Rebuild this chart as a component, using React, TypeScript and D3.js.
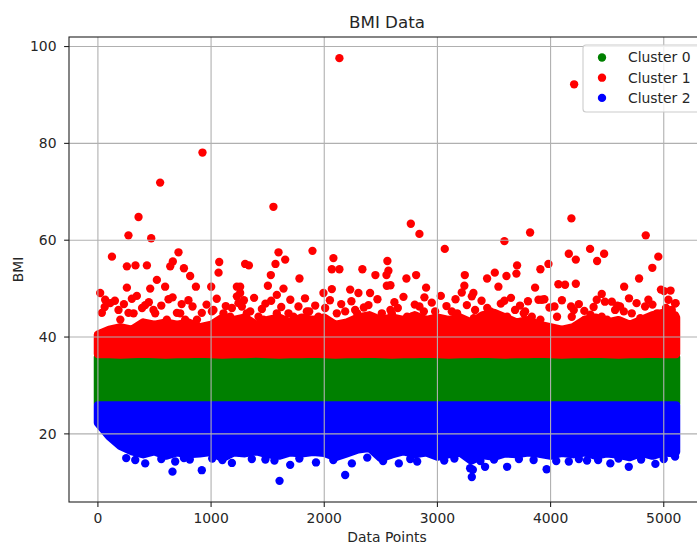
import React, { useEffect } from 'react';
import * as d3 from 'd3';

const W = 697;
const H = 544;
const PLOT = { left: 69, top: 37, right: 705, bottom: 502 };
const R = 4.17;

const xTicks = [0, 1000, 2000, 3000, 4000, 5000];
const yTicks = [20, 40, 60, 80, 100];
const clusterNames = ['Cluster 0', 'Cluster 1', 'Cluster 2'];
const clusterColors = ['green', 'red', 'blue'];

// Dense bands, sampled every 100 data points (index, BMI)
const bandIdx = [0, 100, 200, 300, 400, 500, 600, 700, 800, 900,
  1000, 1100, 1200, 1300, 1400, 1500, 1600, 1700, 1800, 1900,
  2000, 2100, 2200, 2300, 2400, 2500, 2600, 2700, 2800, 2900,
  3000, 3100, 3200, 3300, 3400, 3500, 3600, 3700, 3800, 3900,
  4000, 4100, 4200, 4300, 4400, 4500, 4600, 4700, 4800, 4900,
  5000, 5100, 5109];

// Cluster 0 (green) band
const greenIdx = [0, 5109];
const greenLow = [26.2, 26.2];
const greenHigh = [35.9, 35.9];

// Cluster 1 (red) dense band
const redLow = [36.5, 36.5, 36.4, 36.5, 36.6, 36.5, 36.4, 36.5, 36.5, 36.6,
  36.5, 36.4, 36.5, 36.5, 36.6, 36.5, 36.4, 36.5, 36.5, 36.6,
  36.5, 36.4, 36.5, 36.5, 36.6, 36.5, 36.4, 36.5, 36.5, 36.6,
  36.5, 36.4, 36.5, 36.5, 36.6, 36.5, 36.4, 36.5, 36.5, 36.6,
  36.5, 36.4, 36.5, 36.5, 36.6, 36.5, 36.4, 36.5, 36.5, 36.6,
  36.5, 36.5, 36.5];
const redHigh = [40.5, 41.5, 42.0, 41.5, 43.0, 42.5, 43.0, 42.5, 43.0, 42.0,
  42.5, 44.0, 43.5, 44.0, 42.5, 43.5, 44.0, 43.0, 44.0, 43.5,
  44.0, 42.5, 43.0, 44.0, 44.5, 43.5, 44.0, 43.5, 44.5, 43.5,
  44.0, 43.5, 44.0, 43.0, 44.5, 45.0, 44.0, 43.0, 43.5, 42.5,
  42.0, 41.5, 42.0, 43.5, 44.0, 43.0, 43.5, 42.5, 43.5, 44.5,
  45.0, 44.5, 44.0];

// Cluster 2 (blue) dense band
const blueHigh = [25.9, 25.9, 25.9, 25.9, 25.9, 25.9, 25.9, 25.9, 25.9, 25.9,
  25.9, 25.9, 25.9, 25.9, 25.9, 25.9, 25.9, 25.9, 25.9, 25.9,
  25.9, 25.9, 25.9, 25.9, 25.9, 25.9, 25.9, 25.9, 25.9, 25.9,
  25.9, 25.9, 25.9, 25.9, 25.9, 25.9, 25.9, 25.9, 25.9, 25.9,
  25.9, 25.9, 25.9, 25.9, 25.9, 25.9, 25.9, 25.9, 25.9, 25.9,
  25.9, 25.9, 25.9];
const blueLow = [22.3, 19.5, 17.5, 16.4, 15.8, 16.4, 15.5, 16.2, 15.8, 16.0,
  16.3, 15.0, 16.2, 16.0, 16.4, 15.8, 15.5, 16.2, 16.0, 16.3,
  16.1, 15.2, 16.0, 16.8, 17.1, 15.0, 15.8, 16.4, 15.8, 16.2,
  15.3, 15.8, 16.2, 14.5, 15.6, 15.3, 16.0, 15.8, 16.2, 15.9,
  15.5, 16.1, 15.8, 16.2, 15.5, 16.0, 15.7, 15.2, 16.1, 15.5,
  16.2, 16.0, 16.3];

// Individual visible points [data index, BMI]
const redPoints: [number, number][] = [
  [2134, 97.6], [924, 78.1], [550, 71.9], [1551, 66.9], [359, 64.8], [270, 61.0], [471, 60.4],
  [124, 56.6], [256, 54.6], [332, 54.8], [433, 54.8], [639, 54.6], [662, 55.6], [712, 57.5],
  [760, 54.2], [815, 52.6], [1072, 55.5], [1066, 53.3], [1301, 55.1], [1334, 54.8], [1528, 52.8],
  [1569, 55.1], [1596, 57.5], [1655, 56.0], [1781, 52.1], [1896, 57.8], [2081, 56.3], [2067, 54.0],
  [2134, 54.0], [4208, 92.2], [4184, 64.5], [4841, 61.0], [2765, 63.4], [2841, 61.3], [3819, 61.6],
  [3592, 59.8], [3065, 58.2], [2337, 54.0], [2452, 52.8], [2558, 55.7], [2567, 53.7], [2550, 52.8],
  [2726, 52.1], [2812, 52.8], [3242, 52.8], [3507, 53.3], [3439, 52.1], [3610, 52.6], [3704, 54.8],
  [3698, 53.1], [3910, 54.0], [3981, 55.1], [4161, 57.2], [4223, 56.0], [4349, 58.2], [4411, 55.7],
  [4473, 57.2], [4782, 52.1], [4899, 54.3], [4952, 56.6],
  [866, 50.4], [1001, 50.4], [256, 50.2], [521, 51.8], [462, 50.0], [594, 50.4], [20, 49.1],
  [344, 48.5], [624, 47.8], [418, 46.6], [836, 46.3], [182, 45.6], [64, 47.7], [506, 44.9],
  [1228, 50.4], [1228, 48.4], [1184, 46.0], [1110, 44.9], [35, 45.0], [270, 45.0], [698, 45.0],
  [771, 43.6], [918, 45.0], [1007, 45.3], [1242, 47.0],
  [2553, 50.6], [1502, 50.6], [1640, 50.0], [1581, 48.7], [1531, 47.5], [1257, 50.4], [1257, 49.1],
  [1449, 45.8], [1867, 45.3], [1993, 49.1], [2067, 49.9], [2229, 49.8], [2302, 49.1], [2405, 49.1],
  [2391, 46.6], [2008, 46.0], [1272, 46.3], [1419, 44.2], [1684, 44.9], [1846, 43.6], [1949, 44.2],
  [2185, 45.3], [2273, 45.6], [2509, 44.9], [2391, 44.2],
  [2585, 50.7], [2900, 50.2], [2885, 48.2], [2841, 46.3], [2650, 46.0], [3030, 48.5], [3238, 50.6],
  [3215, 49.2], [3318, 49.1], [3304, 48.4], [3539, 50.4], [3592, 47.5], [3863, 50.2], [3893, 47.7],
  [3775, 45.3], [2980, 45.3], [2597, 44.9], [2774, 44.2], [3127, 45.3], [3333, 45.6], [3481, 44.9],
  [3686, 45.6], [3834, 44.2],
  [4069, 50.9], [4128, 50.8], [4223, 51.0], [4650, 50.4], [5003, 49.5], [3945, 47.8], [4034, 46.3],
  [4181, 46.3], [4452, 48.9], [4408, 47.7], [4541, 47.3], [4693, 48.0], [4614, 46.3], [5041, 47.7],
  [5100, 46.9], [4298, 45.4], [4864, 47.7], [3922, 47.7], [4187, 44.2], [4305, 43.6], [4452, 44.2],
  [4570, 45.6], [4717, 44.9], [4835, 46.3], [4952, 44.2], [5071, 45.6], [5105, 43.6],
  [4975, 49.8], [5060, 49.6], [5105, 47.0],
  [109, 47.0], [198, 43.6], [315, 44.9], [491, 45.6], [609, 43.6], [727, 44.9], [875, 43.6],
  [1021, 45.6], [1169, 44.2], [1316, 44.9], [1463, 43.6], [1581, 44.9], [1728, 44.2], [1846, 45.3],
  [1964, 43.6], [2111, 44.9], [2291, 44.9], [2438, 43.6], [2585, 45.6], [2732, 44.2], [2880, 45.3],
  [3027, 43.6], [3174, 44.9], [3322, 43.9], [3468, 45.3], [3616, 44.2], [3763, 44.9], [3910, 43.6],
  [4057, 44.2], [4205, 45.6], [4352, 44.6], [4499, 43.6], [4647, 45.3], [4793, 43.9], [4941, 44.9],
  [5073, 44.2],
  [60, 46.2], [150, 47.5], [230, 46.8], [300, 47.9], [390, 46.0], [450, 47.2], [560, 46.5],
  [660, 48.2], [740, 46.8], [800, 47.6], [960, 46.7], [1050, 47.9], [1130, 46.4], [1290, 47.6],
  [1346, 45.3], [1380, 48.1], [1480, 46.9], [1620, 46.2], [1700, 47.7], [1772, 46.3], [1830, 48.0],
  [1920, 46.5], [2050, 47.6], [2150, 46.8], [2240, 47.4], [2350, 46.1], [2470, 47.8], [2620, 47.2],
  [2700, 48.3], [2800, 46.7], [2950, 47.1], [3080, 46.4], [3160, 47.8], [3260, 46.6], [3390, 47.5],
  [3440, 46.0], [3560, 46.9], [3650, 48.1], [3730, 46.5], [3800, 47.4], [3990, 46.1], [4100, 47.6],
  [4250, 46.8], [4380, 46.2], [4480, 47.3], [4590, 46.5], [4760, 47.0], [4900, 46.7], [5020, 46.0],
];

const bluePoints: [number, number][] = [
  [418, 13.9], [659, 12.2], [918, 12.5], [812, 14.7], [683, 14.3], [1184, 14.0], [1605, 10.3],
  [1699, 13.6], [1927, 14.1], [2185, 11.5], [2244, 13.9], [3304, 11.1], [3289, 12.9], [3313, 12.6],
  [3965, 12.7], [2659, 13.9], [2821, 14.3], [2953, 15.9], [3421, 13.2], [3616, 13.2], [4161, 14.3],
  [4322, 14.5], [4528, 13.9], [4691, 13.2], [4926, 13.8],
  [250, 15.0], [330, 14.6], [560, 14.8], [760, 15.0], [1010, 14.9], [1100, 14.6], [1360, 14.8],
  [1480, 14.7], [1560, 14.5], [1780, 14.9], [2080, 14.6], [2380, 15.1], [2520, 14.4], [2760, 14.8],
  [3060, 14.5], [3150, 14.9], [3380, 14.4], [3500, 14.7], [3720, 14.8], [3850, 14.6], [4050, 14.4],
  [4250, 14.8], [4420, 14.6], [4600, 14.9], [4800, 14.7], [5000, 14.8], [5100, 15.3],
];

const FONT = 'DejaVu Sans, sans-serif';
const TXT = '#262626';

export default function App() {
  useEffect(() => {
    document.documentElement.style.overflow = 'hidden';
    document.body.style.overflow = 'hidden';
    document.body.style.margin = '0';
  }, []);

  const x = d3.scaleLinear().domain([-255.45, 5364.45]).range([PLOT.left, PLOT.right]);
  const y = d3.scaleLinear().domain([5.93, 101.97]).range([PLOT.bottom, PLOT.top]);

  const band = (idx: number[], lo: number[], hi: number[]) =>
    d3.area<number>()
      .x((_, i) => x(idx[i]))
      .y0((_, i) => y(lo[i]))
      .y1((_, i) => y(hi[i]))(idx) || '';

  const bandStyle = (c: string) => ({
    fill: c, stroke: c, strokeWidth: 2 * R, strokeLinejoin: 'round' as const,
  });

  const legendY = [57.5, 77.7, 97.9];

  return (
    <div style={{ position: 'fixed', left: 0, top: 0, width: W, height: H, overflow: 'hidden', background: 'white' }}>
      <svg width={W} height={H} style={{ display: 'block' }} fontFamily={FONT}>
        <defs>
          <clipPath id="plotclip">
            <rect x={PLOT.left} y={PLOT.top} width={PLOT.right - PLOT.left} height={PLOT.bottom - PLOT.top} />
          </clipPath>
        </defs>
        <rect x={0} y={0} width={W} height={H} fill="white" />
        <g clipPath="url(#plotclip)">
          <path d={band(greenIdx, greenLow, greenHigh)} {...bandStyle(clusterColors[0])} />
          <path d={band(bandIdx, redLow, redHigh)} {...bandStyle(clusterColors[1])} />
          {redPoints.map((p, i) => (
            <circle key={'r' + i} cx={x(p[0])} cy={y(p[1])} r={R} fill={clusterColors[1]} />
          ))}
          <path d={band(bandIdx, blueLow, blueHigh)} {...bandStyle(clusterColors[2])} />
          {bluePoints.map((p, i) => (
            <circle key={'b' + i} cx={x(p[0])} cy={y(p[1])} r={R} fill={clusterColors[2]} />
          ))}
          {xTicks.map(t => (
            <line key={'gx' + t} x1={x(t)} x2={x(t)} y1={PLOT.top} y2={PLOT.bottom} stroke="#b0b0b0" strokeWidth={1.1} />
          ))}
          {yTicks.map(t => (
            <line key={'gy' + t} x1={PLOT.left} x2={PLOT.right} y1={y(t)} y2={y(t)} stroke="#b0b0b0" strokeWidth={1.1} />
          ))}
        </g>
        <rect x={PLOT.left} y={PLOT.top} width={PLOT.right - PLOT.left} height={PLOT.bottom - PLOT.top}
          fill="none" stroke="#222" strokeWidth={1.1} />
        {xTicks.map(t => (
          <g key={'tx' + t}>
            <line x1={x(t)} x2={x(t)} y1={PLOT.bottom} y2={PLOT.bottom + 4.9} stroke="#222" strokeWidth={1.1} />
            <text x={x(t)} y={523} textAnchor="middle" fontSize={13.9} fill={TXT}>{t}</text>
          </g>
        ))}
        {yTicks.map(t => (
          <g key={'ty' + t}>
            <line x1={PLOT.left - 4.9} x2={PLOT.left} y1={y(t)} y2={y(t)} stroke="#222" strokeWidth={1.1} />
            <text x={56.5} y={y(t)} dy="0.35em" textAnchor="end" fontSize={13.9} fill={TXT}>{t}</text>
          </g>
        ))}
        <text x={(PLOT.left + PLOT.right) / 2} y={28} textAnchor="middle" fontSize={16.7} fill={TXT}>BMI Data</text>
        <text x={(PLOT.left + PLOT.right) / 2} y={542} textAnchor="middle" fontSize={13.9} fill={TXT}>Data Points</text>
        <text transform={`translate(22.5, ${(PLOT.top + PLOT.bottom) / 2}) rotate(-90)`} textAnchor="middle"
          fontSize={13.9} fill={TXT}>BMI</text>
        <rect x={583} y={45} width={140} height={67} rx={3} fill="white" fillOpacity={0.8} stroke="#cccccc" strokeWidth={1.1} />
        {clusterNames.map((n, i) => (
          <g key={n}>
            <circle cx={602} cy={legendY[i]} r={R} fill={clusterColors[i]} />
            <text x={628} y={legendY[i]} dy="0.35em" fontSize={13.9} fill={TXT}>{n}</text>
          </g>
        ))}
      </svg>
    </div>
  );
}
